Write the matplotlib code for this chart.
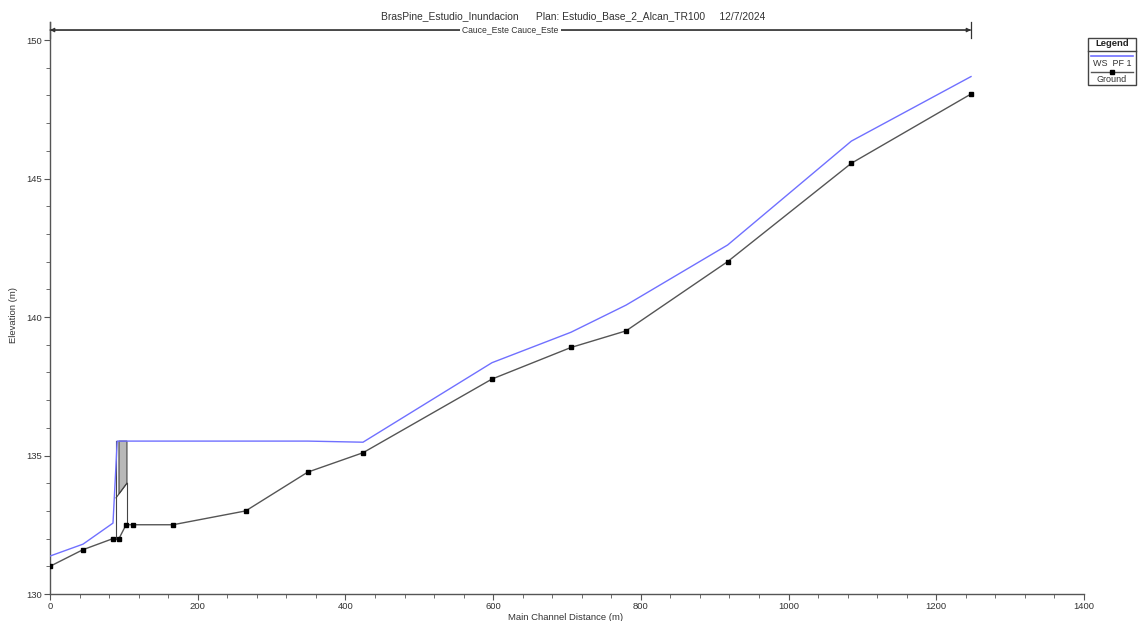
import matplotlib
matplotlib.use("Agg")
import matplotlib.pyplot as plt
from matplotlib.patches import Rectangle, Polygon
from matplotlib.lines import Line2D

plt.rcParams['font.family'] = ['Liberation Sans', 'DejaVu Sans']

# ---- data ----
ground_x = [0, 44.7, 85.3, 93.4, 103.0, 112.0, 166.5, 265, 349, 423.8, 598.4, 705.4, 780, 917.5, 1085, 1247]
ground_y = [131.0, 131.6, 132.0, 132.0, 132.5, 132.5, 132.5, 133.0, 134.4, 135.1, 137.76, 138.9, 139.5, 142.0, 145.55, 148.05]

ws_x = [0, 44.7, 85.3, 91.0, 93.4, 103.0, 112.0, 166.5, 265, 349, 423.8, 598.4, 705.4, 780, 917.5, 1085, 1247]
ws_y = [131.37, 131.8, 132.56, 135.52, 135.52, 135.52, 135.52, 135.52, 135.52, 135.52, 135.48, 138.35, 139.45, 140.43, 142.6, 146.35, 148.68]

bridge_left_x = 89.4
bridge_deck_x = [93.4, 104.2]
bridge_high_chord = 135.52
bridge_low_chord = [133.47, 134.0]   # at bridge_left_x and right edge
bridge_ground = [132.0, 132.5]

reach_label = "Cauce_Este Cauce_Este"
reach_start, reach_end = 0, 1247

title = "BrasPine_Estudio_Inundacion      Plan: Estudio_Base_2_Alcan_TR100     12/7/2024"
xlabel = "Main Channel Distance (m)"
ylabel = "Elevation (m)"

W, H = 1145, 621
fig = plt.figure(figsize=(W / 100, H / 100), dpi=100)
ax = fig.add_axes([50 / W, 1 - 594 / H, (1084 - 50) / W, (594 - 22) / H])

txt_color = '#333333'
ws_color = '#7070ff'
gr_color = '#555555'

# Water surface
ax.plot(ws_x, ws_y, color=ws_color, lw=1.0, zorder=3)

# Bridge
rx = bridge_deck_x[1]
def low_chord(x):
    return bridge_low_chord[0] + (bridge_low_chord[1] - bridge_low_chord[0]) * (x - bridge_left_x) / (rx - bridge_left_x)
deck = Polygon([(bridge_deck_x[0], bridge_high_chord), (rx, bridge_high_chord),
                (rx, low_chord(rx)), (bridge_deck_x[0], low_chord(bridge_deck_x[0]))],
               closed=True, facecolor='#b8b8b8', edgecolor='#444444', lw=0.8, zorder=2)
ax.add_patch(deck)
ax.plot([bridge_left_x, rx], [low_chord(bridge_left_x), low_chord(rx)], color='#444444', lw=0.8, zorder=2)
ax.plot([bridge_left_x, bridge_left_x], [bridge_ground[0], bridge_high_chord], color='#444444', lw=0.8, zorder=2)
ax.plot([rx, rx], [bridge_ground[1], low_chord(rx)], color='#444444', lw=0.8, zorder=2)

# Ground
ax.plot(ground_x, ground_y, color=gr_color, lw=1.0, marker='s', ms=3.2,
        mfc='black', mec='black', zorder=4)

# Reach bar on top
ybar = 150.36
for a, b in ((reach_start, reach_end), (reach_end, reach_start)):
    ax.annotate('', xy=(a, ybar), xytext=(b, ybar),
                arrowprops=dict(arrowstyle='-|>', color='#333333', lw=0.9, mutation_scale=6,
                                shrinkA=0, shrinkB=0), annotation_clip=False)
for xe in (reach_start, reach_end):
    ax.plot([xe, xe], [ybar - 0.28, ybar + 0.28], color='#333333', lw=0.9, clip_on=False)
ax.text((reach_start + reach_end) / 2, ybar, reach_label, ha='center', va='center',
        fontsize=6.2, color=txt_color,
        bbox=dict(facecolor='white', edgecolor='none', pad=1.5), zorder=5)

ax.set_xlim(0, 1400)
ax.set_ylim(130, 150.65)
ax.set_xticks(range(0, 1401, 200))
ax.set_xticks(range(0, 1401, 40), minor=True)
ax.set_yticks(range(130, 151, 5))
ax.set_yticks(range(130, 151, 1), minor=True)
for s in ('top', 'right'):
    ax.spines[s].set_visible(False)
for s in ('left', 'bottom'):
    ax.spines[s].set_color('#555555')
    ax.spines[s].set_linewidth(1.0)
ax.tick_params(axis='both', which='both', direction='out', colors='#555555',
               labelcolor=txt_color, labelsize=6.8)
ax.tick_params(which='major', length=4)
ax.tick_params(which='minor', length=3)
ax.tick_params(axis='y', pad=2)
ax.tick_params(axis='x', pad=2)

fig.text(566 / W, 1 - 617 / H, xlabel, ha='center', va='center', fontsize=6.8, color=txt_color)
fig.text(14 / W, 1 - 315 / H, ylabel, ha='center', va='center', fontsize=6.8, color=txt_color, rotation=90)
fig.text(573 / W, 1 - 16 / H, title, ha='center', va='center', fontsize=7.4, color=txt_color)

# Legend box
def fx(x): return x / W
def fy(y): return 1 - y / H
L, R, T, B = 1088, 1136, 38, 85
fig.add_artist(Rectangle((fx(L), fy(B)), fx(R) - fx(L), fy(T) - fy(B), transform=fig.transFigure,
                         facecolor='white', edgecolor='#444444', lw=1.0))
fig.add_artist(Line2D([fx(L), fx(R)], [fy(50.5), fy(50.5)], transform=fig.transFigure, color='#444444', lw=1.0))
fig.text(fx((L + R) / 2), fy(44), "Legend", ha='center', va='center', fontsize=6.8, fontweight='bold', color='#222222')
fig.add_artist(Line2D([fx(L + 3), fx(R - 3)], [fy(55.5), fy(55.5)], transform=fig.transFigure, color=ws_color, lw=1.2))
fig.text(fx((L + R) / 2), fy(63.5), "WS  PF 1", ha='center', va='center', fontsize=6.5, color=txt_color)
fig.add_artist(Line2D([fx(L + 3), fx(R - 3)], [fy(72), fy(72)], transform=fig.transFigure, color=gr_color, lw=1.0))
fig.add_artist(Line2D([fx((L + R) / 2)], [fy(72)], transform=fig.transFigure, marker='s', ms=3.2,
                      mfc='black', mec='black', lw=0))
fig.text(fx((L + R) / 2), fy(79), "Ground", ha='center', va='center', fontsize=6.5, color=txt_color)

fig.savefig("out.png", dpi=100, facecolor='white')
